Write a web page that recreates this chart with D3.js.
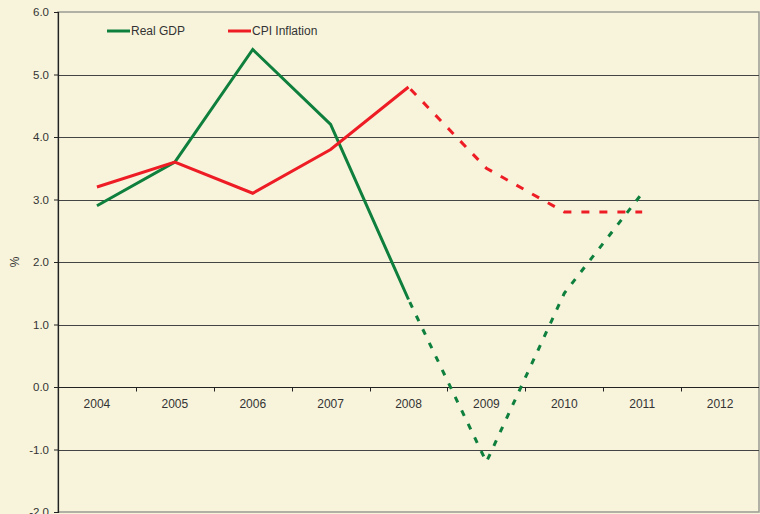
<!DOCTYPE html>
<html>
<head>
<meta charset="utf-8">
<script src="https://cdn.jsdelivr.net/npm/d3@7"></script>
<style>
  body { margin: 0; background: #f8f4dc; }
  svg { display: block; font-family: "Liberation Sans", Arial, sans-serif; }
</style>
</head>
<body>
<div id="chart"></div>
<script>
const WIDTH = 760;
const HEIGHT = 514;
const MARGIN = { top: 12, right: 1, bottom: 2, left: 58 };

const years = ['2004', '2005', '2006', '2007', '2008', '2009', '2010', '2011', '2012'];
const realGdp = [2.9, 3.6, 5.4, 4.2, 1.4, -1.2, 1.5, 3.1, null];
const cpiInflation = [3.2, 3.6, 3.1, 3.8, 4.8, 3.5, 2.8, 2.8, null];
const lastActual = '2008';
const yTicks = [-2, -1, 0, 1, 2, 3, 4, 5, 6];

const series = [
  { name: 'Real GDP', values: realGdp, color: '#0e7f3c', dash: '6,9' },
  { name: 'CPI Inflation', values: cpiInflation, color: '#ee1d25', dash: '8,10' }
];

const FONT = '"Liberation Sans", Arial, sans-serif';

const svg = d3.select('#chart')
  .append('svg')
  .attr('width', WIDTH)
  .attr('height', HEIGHT);

const xScale = d3.scaleBand()
  .domain(years)
  .range([MARGIN.left, WIDTH - MARGIN.right]);

const yScale = d3.scaleLinear()
  .domain([-2, 6])
  .range([HEIGHT - MARGIN.bottom, MARGIN.top]);

const xPos = y => xScale(y) + xScale.bandwidth() / 2;

// plot border (grey)
svg.append('rect')
  .attr('x', MARGIN.left)
  .attr('y', MARGIN.top)
  .attr('width', WIDTH - MARGIN.right - MARGIN.left)
  .attr('height', HEIGHT - MARGIN.bottom - MARGIN.top)
  .attr('fill', 'none')
  .attr('stroke', '#9a9a92')
  .attr('stroke-width', 1.5);

// gridlines
svg.append('g')
  .selectAll('line')
  .data(yTicks.filter(d => d > -2 && d < 6))
  .enter()
  .append('line')
  .attr('x1', MARGIN.left)
  .attr('x2', WIDTH - MARGIN.right)
  .attr('y1', d => Math.round(yScale(d)) + 0.5)
  .attr('y2', d => Math.round(yScale(d)) + 0.5)
  .attr('stroke', d => d === 0 ? '#222' : '#444')
  .attr('stroke-width', 1.2);

// y axis
const fmt = d3.format('.1f');
const yAxis = d3.axisLeft(yScale)
  .tickValues(yTicks)
  .tickSize(4)
  .tickPadding(5)
  .tickFormat(d => fmt(d).replace('\u2212', '-'));
svg.append('g')
  .attr('id', 'y-axis')
  .attr('transform', `translate(${MARGIN.left}, 0)`)
  .call(yAxis)
  .call(g => g.select('.domain').attr('stroke', '#222').attr('stroke-width', 1.2))
  .call(g => g.selectAll('.tick line').attr('stroke', '#222'))
  .call(g => g.selectAll('.tick text').attr('fill', '#333').attr('font-size', 11.5).attr('font-family', FONT));

// x axis sits on the zero line
const zeroY = Math.round(yScale(0)) + 0.5;
const xAxis = d3.axisBottom(xScale)
  .tickSize(0)
  .tickPadding(12);
svg.append('g')
  .attr('id', 'x-axis')
  .attr('transform', `translate(0, ${zeroY})`)
  .call(xAxis)
  .call(g => g.select('.domain').remove())
  .call(g => g.selectAll('.tick text').attr('fill', '#333').attr('font-size', 12).attr('font-family', FONT));

// category separator ticks below zero line
svg.append('g')
  .selectAll('line')
  .data(years.slice(1))
  .enter()
  .append('line')
  .attr('x1', d => Math.round(xScale(d)) + 0.5)
  .attr('x2', d => Math.round(xScale(d)) + 0.5)
  .attr('y1', zeroY)
  .attr('y2', zeroY + 4)
  .attr('stroke', '#222');

// y label
svg.append('text')
  .attr('transform', `translate(19, ${yScale(2)}) rotate(-90)`)
  .attr('text-anchor', 'middle')
  .attr('font-size', 12)
  .attr('fill', '#333')
  .text('%');

// lines: solid for actual, dashed for forecast
const lastIdx = years.indexOf(lastActual);
const line = d3.line()
  .x(d => xPos(d.year))
  .y(d => yScale(d.value));

series.forEach(s => {
  const pts = years.map((y, i) => ({ year: y, value: s.values[i], i }))
    .filter(d => d.value !== null);
  svg.append('path')
    .datum(pts.filter(d => d.i <= lastIdx))
    .attr('fill', 'none')
    .attr('stroke', s.color)
    .attr('stroke-width', 3)
    .attr('d', line);
  svg.append('path')
    .datum(pts.filter(d => d.i >= lastIdx))
    .attr('fill', 'none')
    .attr('stroke', s.color)
    .attr('stroke-width', 3)
    .attr('stroke-dasharray', s.dash)
    .attr('stroke-dashoffset', -3)
    .attr('d', line);
});

// legend
const legend = svg.append('g').attr('id', 'legend');
const legendX = [107, 228];
series.forEach((s, i) => {
  legend.append('line')
    .attr('x1', legendX[i])
    .attr('x2', legendX[i] + 23)
    .attr('y1', 31)
    .attr('y2', 31)
    .attr('stroke', s.color)
    .attr('stroke-width', 3);
  legend.append('text')
    .attr('x', legendX[i] + 24)
    .attr('y', 35)
    .attr('font-size', 12)
    .attr('fill', '#333')
    .text(s.name);
});
</script>
</body>
</html>
